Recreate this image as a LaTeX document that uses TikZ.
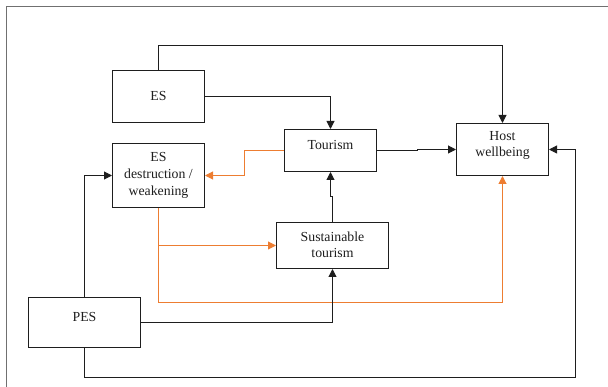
\documentclass[tikz,border=0pt]{standalone}
\usepackage{fontspec}
\setmainfont{Liberation Serif}
\usetikzlibrary{arrows.meta}
\definecolor{orng}{HTML}{ED7D31}
\definecolor{frm}{HTML}{707070}
\definecolor{ink}{HTML}{1E1E1E}
\begin{document}
\begin{tikzpicture}[x=1pt,y=-1pt,
  box/.style={draw=ink,line width=1pt,inner sep=0pt},
  txt/.style={text=ink,align=center,font=\fontsize{13.8}{16.5}\selectfont,inner sep=0pt},
  arr/.style={draw=ink,line width=1pt,-{Triangle[length=8pt,width=8pt]}},
  oarr/.style={draw=orng,line width=1pt,-{Triangle[length=8pt,width=8pt]}}]
\useasboundingbox (0,0) rectangle (608,387);
% frame
\draw[frm,line width=1pt] (6.5,387) -- (6.5,6.5) -- (608,6.5);
% boxes
\node[box,minimum width=92,minimum height=52] (es) at (158.5,96.5) {};
\node[box,minimum width=92,minimum height=64] (esd) at (158.5,175.5) {};
\node[box,minimum width=92,minimum height=42] (tour) at (330.5,150.5) {};
\node[box,minimum width=92,minimum height=52] (hw) at (502.5,149.5) {};
\node[box,minimum width=112,minimum height=46] (sus) at (332.5,245.5) {};
\node[box,minimum width=112,minimum height=50] (pes) at (84.5,322.5) {};
% texts
\node[txt] (es-t) at (158.5,96) {ES};
\node[txt,font=\fontsize{13.8}{17}\selectfont] (esd-t) at (158.5,175) {ES\\destruction /\\weakening};
\node[txt] (tour-t) at (330.5,145) {Tourism};
\node[txt] (hw-t) at (502.5,145.5) {Host\\wellbeing};
\node[txt] (sus-t) at (332.5,245) {Sustainable\\tourism};
\node[txt] (pes-t) at (84.5,317) {PES};
% helper coordinates
\coordinate (topy) at (0,45.5);
\coordinate (jx) at (244.5,160);
\coordinate (jt) at (417.5,150);
\coordinate (js) at (331,196.5);
\coordinate (oy) at (0,302.5);
\coordinate (rb) at (575.5,377.5);
% connectors
\draw[arr] (es.north) -- (es.north |- topy) -| (hw.north);
\draw[arr] (es.east) -| (tour.north);
\draw[oarr] (tour.west) -| (jx) |- (esd.east);
\draw[arr] (tour.east) -| (jt) |- (hw.west);
\draw[arr] (sus.north) |- (js) -| (tour.south);
\draw[oarr] (esd.south) |- (sus.west);
\draw[oarr] (esd.south) -- (esd.south |- oy) -| (hw.south);
\draw[arr] (pes.north) |- (esd.west);
\draw[arr] (pes.east) -| (sus.south);
\draw[arr] (pes.south) |- (rb) |- (hw.east);
\end{tikzpicture}
\end{document}
